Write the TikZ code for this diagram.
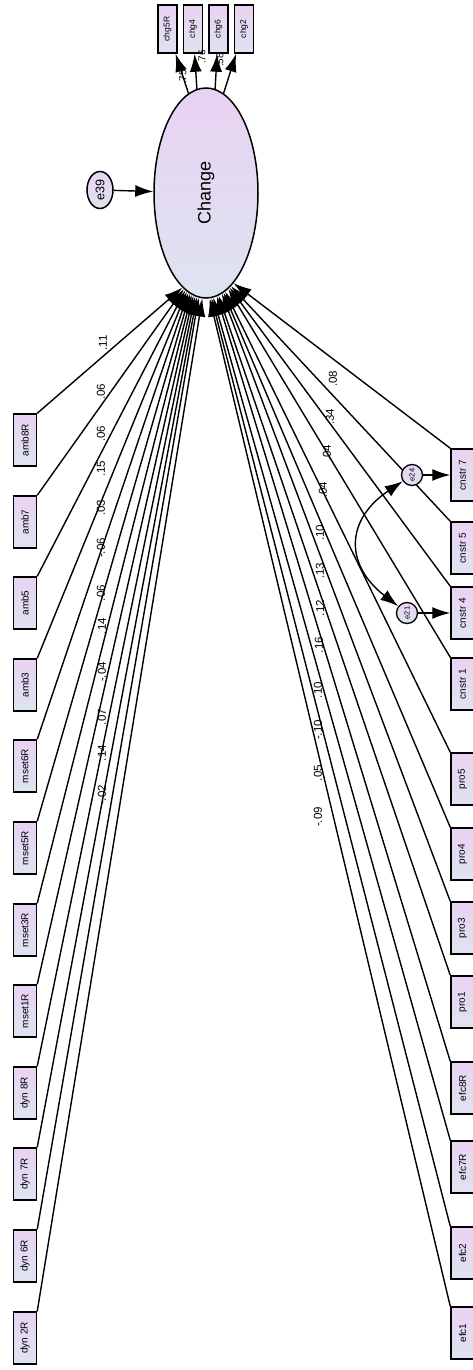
\documentclass[tikz,border=0pt]{standalone}
\usepackage{fontspec}
\setmainfont{Liberation Sans}
\usetikzlibrary{arrows.meta,shapes.geometric}
\definecolor{boxtop}{RGB}{233,210,242}
\definecolor{boxbot}{RGB}{221,228,241}
\begin{document}
\begin{tikzpicture}[x=1pt, y=-1pt, >={Latex[length=18pt,width=12pt]}, line width=1.4pt,
  obs/.style={draw, line width=1.5pt, top color=boxtop, bottom color=boxbot, minimum width=23pt, minimum height=52pt, inner sep=0pt, font=\fontsize{10}{12}\selectfont},
  obstop/.style={obs, minimum width=19pt, minimum height=48pt, font=\fontsize{8.5}{10}\selectfont},
  err/.style={draw, circle, line width=1.3pt, top color=boxtop, bottom color=boxbot, minimum size=21pt, inner sep=0pt, font=\fontsize{7.5}{8}\selectfont},
  coef/.style={rotate=90, inner sep=1pt, font=\fontsize{11.5}{12}\selectfont}]
\useasboundingbox (0,0) rectangle (473,1370);

\node[draw, ellipse, line width=1.5pt, minimum width=104pt, minimum height=210pt, inner sep=0pt, top color=boxtop, bottom color=boxbot, font=\fontsize{18}{20}\selectfont] (change) at (206,193) {\rotatebox{90}{Change}};
\node[draw, ellipse, line width=1.5pt, minimum width=26pt, minimum height=37pt, inner sep=0pt, top color=boxtop, bottom color=boxbot, font=\fontsize{12.5}{12}\selectfont] (e39) at (100,190) {\rotatebox{90}{e39}};
\draw[->] (e39) -- (change);

% indicators
\node[obstop] (chg5R) at (167.5,29) {\rotatebox{90}{chg5R}};
\node[obstop] (chg4) at (193,29) {\rotatebox{90}{chg4}};
\node[obstop] (chg6) at (218.5,29) {\rotatebox{90}{chg6}};
\node[obstop] (chg2) at (244,29) {\rotatebox{90}{chg2}};
\draw[->] (change.100) -- (chg5R);
\draw[->] (change.95) -- (chg4);
\draw[->] (change.85) -- (chg6);
\draw[->] (change.80) -- (chg2);
\node[coef, font=\fontsize{10}{10}\selectfont] at (183,77) {.75};
\node[coef, font=\fontsize{10}{10}\selectfont] at (202,57) {.76};
\node[coef, font=\fontsize{10}{10}\selectfont] at (220,60) {.58};

% left predictors
\node[obs] (amb8R) at (25,440) {\rotatebox{90}{amb8R}};
\node[obs] (amb7) at (25,522) {\rotatebox{90}{amb7}};
\node[obs] (amb5) at (25,603) {\rotatebox{90}{amb5}};
\node[obs] (amb3) at (25,685) {\rotatebox{90}{amb3}};
\node[obs] (mset6R) at (25,766) {\rotatebox{90}{mset6R}};
\node[obs] (mset5R) at (25,848) {\rotatebox{90}{mset5R}};
\node[obs] (mset3R) at (25,930) {\rotatebox{90}{mset3R}};
\node[obs] (mset1R) at (25,1011) {\rotatebox{90}{mset1R}};
\node[obs] (dyn8R) at (25,1093) {\rotatebox{90}{dyn 8R}};
\node[obs] (dyn7R) at (25,1174) {\rotatebox{90}{dyn 7R}};
\node[obs] (dyn6R) at (25,1256) {\rotatebox{90}{dyn 6R}};
\node[obs] (dyn2R) at (25,1338) {\rotatebox{90}{dyn 2R}};

\draw[->] (amb8R.north east) -- (change.256);
\draw[->] (amb7.north east) -- (change.257);
\draw[->] (amb5.north east) -- (change.258);
\draw[->] (amb3.north east) -- (change.259);
\draw[->] (mset6R.north east) -- (change.260);
\draw[->] (mset5R.north east) -- (change.261);
\draw[->] (mset3R.north east) -- (change.262);
\draw[->] (mset1R.north east) -- (change.263);
\draw[->] (dyn8R.north east) -- (change.264);
\draw[->] (dyn7R.north east) -- (change.265);
\draw[->] (dyn6R.north east) -- (change.266.5);
\draw[->] (dyn2R.north east) -- (change.268);

\node[coef] at (103,343) {.11};
\node[coef] at (101,392) {.06};
\node[coef] at (101,434) {.06};
\node[coef] at (101,469) {.15};
\node[coef] at (101,508) {.03};
\node[coef] at (101,548) {-.06};
\node[coef] at (101,593) {.06};
\node[coef] at (102,626) {.14};
\node[coef] at (102,672) {-.04};
\node[coef] at (102,717) {.07};
\node[coef] at (102,753) {.14};
\node[coef] at (102,795) {-.02};

% right predictors
\node[obs] (cnstr7) at (462.5,475) {\rotatebox{90}{cnstr 7}};
\node[obs] (cnstr5) at (462.5,548) {\rotatebox{90}{cnstr 5}};
\node[obs] (cnstr4) at (462.5,613) {\rotatebox{90}{cnstr 4}};
\node[obs] (cnstr1) at (462.5,684) {\rotatebox{90}{cnstr 1}};
\node[obs] (pro5) at (462.5,779) {\rotatebox{90}{pro5}};
\node[obs] (pro4) at (462.5,854) {\rotatebox{90}{pro4}};
\node[obs] (pro3) at (462.5,928) {\rotatebox{90}{pro3}};
\node[obs] (pro1) at (462.5,1002) {\rotatebox{90}{pro1}};
\node[obs] (efc8R) at (462.5,1088) {\rotatebox{90}{efc8R}};
\node[obs] (efc7R) at (462.5,1167) {\rotatebox{90}{efc7R}};
\node[obs] (efc2) at (462.5,1253) {\rotatebox{90}{efc2}};
\node[obs] (efc1) at (462.5,1333) {\rotatebox{90}{efc1}};

\draw[->] (cnstr7.north west) -- (change.287);
\draw[->] (cnstr5.north west) -- (change.285.5);
\draw[->] (cnstr4.north west) -- (change.284);
\draw[->] (cnstr1.north west) -- (change.283);
\draw[->] (pro5.north west) -- (change.281.5);
\draw[->] (pro4.north west) -- (change.280);
\draw[->] (pro3.north west) -- (change.279);
\draw[->] (pro1.north west) -- (change.277.5);
\draw[->] (efc8R.north west) -- (change.276);
\draw[->] (efc7R.north west) -- (change.274.5);
\draw[->] (efc2.north west) -- (change.273);
\draw[->] (efc1.north west) -- (change.272);

\node[coef] at (333,379) {.08};
\node[coef] at (330,417) {.34};
\node[coef] at (327,453) {.04};
\node[coef] at (323,490) {.04};
\node[coef] at (320,533) {.10};
\node[coef] at (320,571) {.13};
\node[coef] at (320,608) {.12};
\node[coef] at (319,645) {.16};
\node[coef] at (318,690) {.10};
\node[coef] at (318,730) {-.10};
\node[coef] at (318,773) {.05};
\node[coef] at (318,817) {-.09};

% residual covariance
\node[err] (e24) at (412,475) {\rotatebox{90}{e24}};
\node[err] (e21) at (407,613) {\rotatebox{90}{e21}};
\draw[->] (e24) -- (cnstr7);
\draw[->] (e21) -- (cnstr4);
\draw[<->] (e24) .. controls (345,520) and (345,565) .. (e21);
\end{tikzpicture}
\end{document}
